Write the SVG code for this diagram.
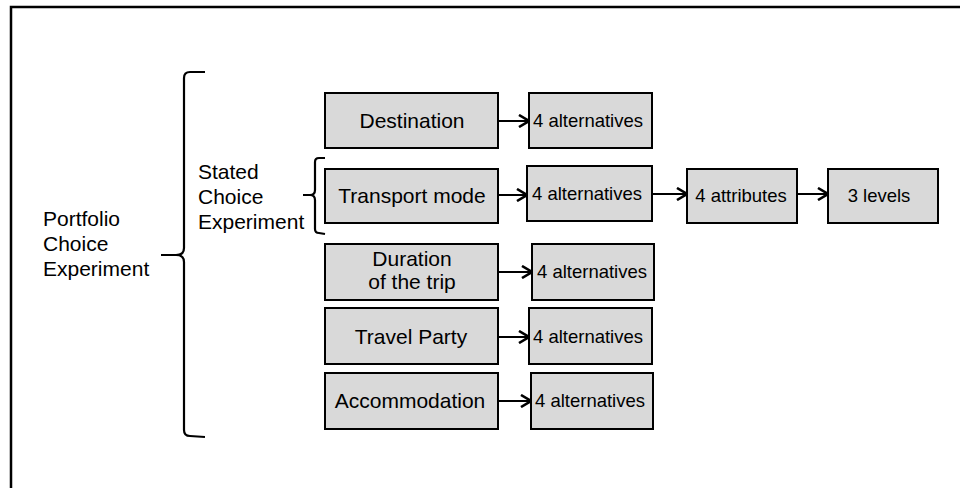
<svg xmlns="http://www.w3.org/2000/svg" width="960" height="488" viewBox="0 0 960 488">
<defs>
<style>
.box{fill:#d9d9d9;stroke:#000;stroke-width:2}
.t{font-family:"Liberation Sans",Arial,sans-serif;font-size:21px;fill:#000;text-anchor:middle}
.s{font-family:"Liberation Sans",Arial,sans-serif;font-size:18.5px;fill:#000;text-anchor:middle}
.l{font-family:"Liberation Sans",Arial,sans-serif;font-size:21px;fill:#000}
.edge{fill:none;stroke:#000;stroke-width:2}
.brace{fill:none;stroke:#000;stroke-width:2.2;stroke-linejoin:round}
</style>
<marker id="arr" viewBox="0 0 12 14" refX="11" refY="7" markerWidth="12" markerHeight="14" markerUnits="userSpaceOnUse" orient="auto">
<path d="M1,1 L11,7 L1,13" fill="none" stroke="#000" stroke-width="2.6"/>
</marker>
</defs>
<rect x="11" y="7" width="1000" height="600" fill="none" stroke="#000" stroke-width="2.5"/>

<g id="portfolio">
<text class="l" x="43" y="226">Portfolio</text>
<text class="l" x="43" y="251">Choice</text>
<text class="l" x="43" y="276">Experiment</text>
<path class="brace" d="M205,72 L190,72 Q184,72 184,78 L184,248 Q184,255 176,255 L161,255 M176,255 Q184,255 184,262 L184,430 Q184,436 190,436 L205,437"/>
</g>

<g id="stated">
<text class="l" x="198" y="179">Stated</text>
<text class="l" x="198" y="204">Choice</text>
<text class="l" x="198" y="229">Experiment</text>
<path class="brace" d="M325,158 L319,158 Q315,158 315,162 L315,190 Q315,195 310,195 L303,195 M310,195 Q315,195 315,200 L315,229 Q315,233 319,233 L325,234"/>
</g>

<g id="destination">
<rect class="box" x="325" y="93" width="173" height="55"/>
<text class="t" x="412" y="128">Destination</text>
</g>
<g id="dest-alt">
<rect class="box" x="529" y="93" width="123" height="55"/>
<text class="s" x="588" y="127">4 alternatives</text>
</g>

<g id="transport">
<rect class="box" x="325" y="169" width="173" height="54"/>
<text class="t" x="412" y="203">Transport mode</text>
</g>
<g id="trans-alt">
<rect class="box" x="527" y="166" width="125" height="55"/>
<text class="s" x="587" y="200">4 alternatives</text>
</g>
<g id="attributes">
<rect class="box" x="687" y="169" width="110" height="54"/>
<text class="s" x="741" y="202">4 attributes</text>
</g>
<g id="levels">
<rect class="box" x="828" y="169" width="110" height="54"/>
<text class="s" x="879" y="202">3 levels</text>
</g>

<g id="duration">
<rect class="box" x="325" y="244" width="173" height="56"/>
<text class="t" x="412" y="266">Duration</text>
<text class="t" x="412" y="289">of the trip</text>
</g>
<g id="dur-alt">
<rect class="box" x="532" y="244" width="122" height="56"/>
<text class="s" x="592" y="278">4 alternatives</text>
</g>

<g id="party">
<rect class="box" x="325" y="308" width="173" height="56"/>
<text class="t" x="411" y="344">Travel Party</text>
</g>
<g id="party-alt">
<rect class="box" x="529" y="308" width="123" height="56"/>
<text class="s" x="588" y="343">4 alternatives</text>
</g>

<g id="accommodation">
<rect class="box" x="325" y="373" width="173" height="56"/>
<text class="t" x="410" y="408">Accommodation</text>
</g>
<g id="acc-alt">
<rect class="box" x="531" y="373" width="122" height="56"/>
<text class="s" x="590" y="407">4 alternatives</text>
</g>

<g id="connectors">
<line class="edge" x1="498" y1="121" x2="529" y2="121" marker-end="url(#arr)"/>
<line class="edge" x1="498" y1="195" x2="527" y2="195" marker-end="url(#arr)"/>
<line class="edge" x1="652" y1="194" x2="687" y2="194" marker-end="url(#arr)"/>
<line class="edge" x1="797" y1="194" x2="828" y2="194" marker-end="url(#arr)"/>
<line class="edge" x1="498" y1="272" x2="532" y2="272" marker-end="url(#arr)"/>
<line class="edge" x1="498" y1="337" x2="529" y2="337" marker-end="url(#arr)"/>
<line class="edge" x1="498" y1="401" x2="531" y2="401" marker-end="url(#arr)"/>
</g>
</svg>
